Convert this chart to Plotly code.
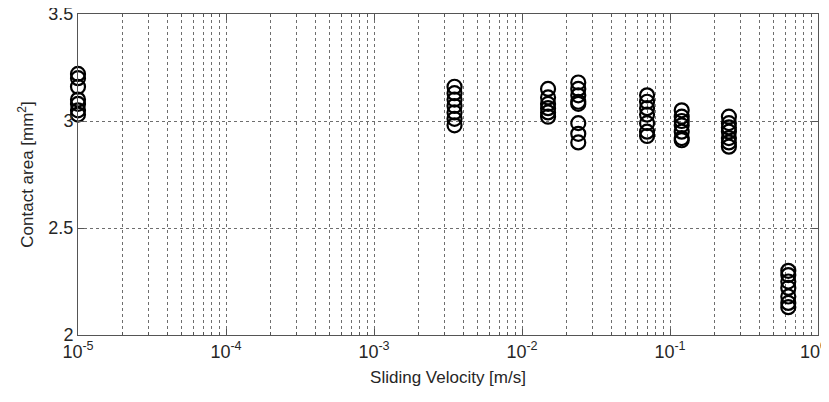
import plotly.graph_objects as go

velocities = [1e-5, 3.5e-3, 1.5e-2, 2.4e-2, 7e-2, 1.2e-1, 2.5e-1, 6.3e-1]
area_1e5 = [3.22, 3.20, 3.16, 3.10, 3.08, 3.05, 3.03]
area_35e3 = [3.16, 3.13, 3.10, 3.07, 3.04, 3.01, 2.98]
area_15e2 = [3.15, 3.11, 3.08, 3.06, 3.04, 3.02]
area_24e2 = [3.18, 3.15, 3.12, 3.09, 3.08, 2.99, 2.94, 2.90]
area_7e2 = [3.12, 3.09, 3.06, 3.03, 2.99, 2.95, 2.93]
area_12e1 = [3.05, 3.02, 3.00, 2.98, 2.95, 2.92, 2.91]
area_25e1 = [3.02, 2.99, 2.97, 2.95, 2.92, 2.90, 2.88]
area_63e1 = [2.30, 2.28, 2.25, 2.22, 2.18, 2.15, 2.13]
groups = [area_1e5, area_35e3, area_15e2, area_24e2, area_7e2, area_12e1, area_25e1, area_63e1]

x_tickvals = [1e-5, 1e-4, 1e-3, 1e-2, 1e-1, 1e0]
x_ticktext = ["10<sup>-5</sup>", "10<sup>-4</sup>", "10<sup>-3</sup>", "10<sup>-2</sup>", "10<sup>-1</sup>", ""]
last_x_label = "10<sup>0</sup>"
y_tickvals = [2, 2.5, 3, 3.5]
y_ticktext = ["2", "2.5", "3", "3.5"]

xs, ys = [], []
for v, g in zip(velocities, groups):
    xs += [v] * len(g)
    ys += g

fig = go.Figure(go.Scatter(
    x=xs, y=ys, mode="markers",
    marker=dict(symbol="circle-open", size=14, color="black", line=dict(width=2.2, color="black")),
    cliponaxis=False, showlegend=False,
))

tick_font = dict(family="Liberation Sans, Arial, sans-serif", size=18, color="#262626")
title_font = dict(family="Liberation Sans, Arial, sans-serif", size=17, color="#262626")
gridc = "#6e6e6e"
# page body adds an 8px margin, so the figure is sized to fill the rest of the window
fig.update_layout(
    width=821, height=394,
    margin=dict(l=70, r=11, t=6, b=67),
    paper_bgcolor="white", plot_bgcolor="white",
    font=tick_font,
)
fig.update_xaxes(
    type="log", range=[-5, 0],
    tickvals=x_tickvals, ticktext=x_ticktext, tickfont=tick_font,
    ticklabeloverflow="allow",
    showgrid=True, gridcolor=gridc, griddash="dot", gridwidth=1,
    minor=dict(dtick="D1", showgrid=True, gridcolor=gridc, griddash="dot", ticks="inside", ticklen=3, tickcolor="#555"),
    ticks="inside", ticklen=6, tickcolor="#555",
    showline=True, linecolor="#555", linewidth=1, mirror="ticks",
    zeroline=False, automargin=False,
    title=dict(text="Sliding Velocity [m/s]", font=title_font, standoff=10),
)
fig.update_yaxes(
    range=[2, 3.5], tickvals=y_tickvals, ticktext=y_ticktext, tickfont=tick_font,
    ticklabeloverflow="allow",
    showgrid=True, gridcolor=gridc, griddash="dot", gridwidth=1,
    ticks="inside", ticklen=6, tickcolor="#555",
    showline=True, linecolor="#555", linewidth=1, mirror="ticks",
    zeroline=False, automargin=False,
    title=dict(text="Contact area [mm<sup>2</sup>]", font=title_font, standoff=10),
)
# last decade label, nudged left so it stays inside the window
fig.add_annotation(
    x=0, xref="x", y=0, yref="paper", yanchor="top", xanchor="right",
    xshift=11, yshift=-2, text=last_x_label, showarrow=False, font=tick_font,
)
fig.write_html("out.html")
